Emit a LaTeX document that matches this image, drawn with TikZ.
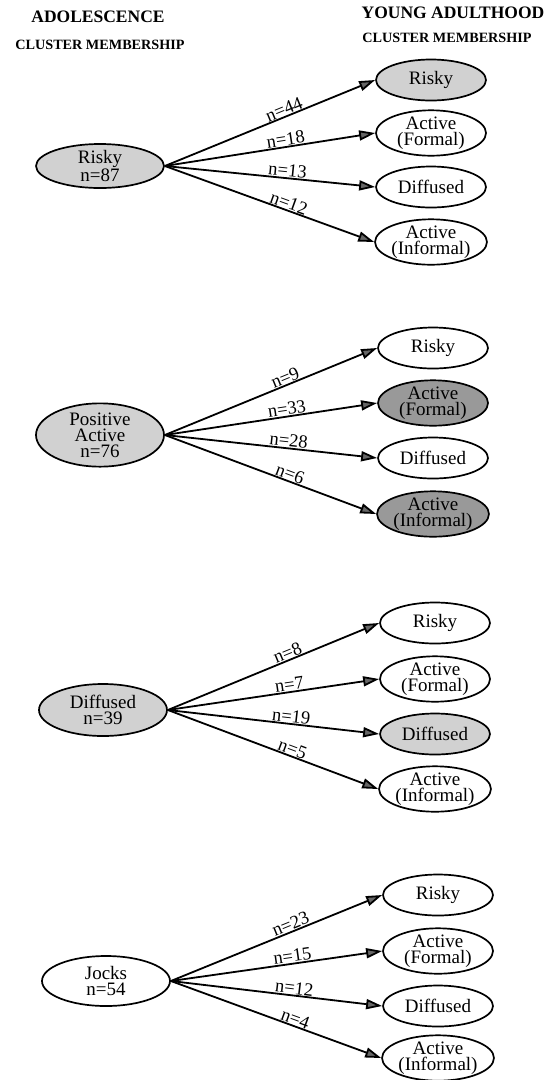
\documentclass[tikz,border=0pt]{standalone}
\usepackage{fontspec}
\setmainfont{Liberation Serif}
\usetikzlibrary{shapes.geometric,arrows.meta}
\tikzset{
  src/.style={ellipse,draw=black,line width=1.7pt,inner sep=0pt,minimum width=128pt,minimum height=48pt,align=center,font=\fontsize{19}{16}\selectfont},
  tgt/.style={ellipse,draw=black,line width=1.7pt,inner sep=0pt,minimum width=110pt,minimum height=41pt,align=center,font=\fontsize{19}{15.5}\selectfont},
  shadeA/.style={fill=black!18},
  shadeB/.style={fill=black!40},
  link/.style={line width=1.8pt,-{Triangle[length=16pt,width=10pt,fill=black!60]}},
  lab/.style={font=\fontsize{18.5}{18}\selectfont,sloped,above,pos=0.58,inner sep=0.5pt},
  hdr/.style={font=\bfseries\fontsize{17.5}{17}\selectfont},
  sub/.style={font=\bfseries\fontsize{14.2}{15}\selectfont}
}
\begin{document}
\begin{tikzpicture}[x=1pt,y=-1pt]
\useasboundingbox (0,0) rectangle (547,1080);
\node[hdr] (h1) at (98,17) {ADOLESCENCE};
\node[sub] (h2) at (100,45) {CLUSTER MEMBERSHIP};
\node[hdr] (h3) at (453,13) {YOUNG ADULTHOOD};
\node[sub] (h4) at (447,38) {CLUSTER MEMBERSHIP};

% group 1
\node[src,shadeA,minimum height=44pt] (s1) at (100,166) {Risky\\n=87};
\node[tgt,shadeA] (a1) at (431,80) {Risky};
\node[tgt] (b1) at (431,133) {Active\\(Formal)};
\node[tgt] (c1) at (431,187) {Diffused};
\node[tgt] (d1) at (431,242) {Active\\(Informal)};
\draw[link] (s1.east) -- (a1.west) node[lab] {n=44};
\draw[link] (s1.east) -- (b1.west) node[lab] {n=18};
\draw[link] (s1.east) -- (c1.west) node[lab] {n=13};
\draw[link] (s1.east) -- (d1.west) node[lab] {n=12};

% group 2
\node[src,shadeA,minimum height=54pt] (s2) at (100,435) {Positive\\Active\\n=76};
\node[tgt] (a2) at (433,348) {Risky};
\node[tgt,shadeB] (b2) at (433,403) {Active\\(Formal)};
\node[tgt] (c2) at (433,458) {Diffused};
\node[tgt,shadeB] (d2) at (433,514) {Active\\(Informal)};
\draw[link] (s2.east) -- (a2.west) node[lab] {n=9};
\draw[link] (s2.east) -- (b2.west) node[lab] {n=33};
\draw[link] (s2.east) -- (c2.west) node[lab] {n=28};
\draw[link] (s2.east) -- (d2.west) node[lab] {n=6};

% group 3
\node[src,shadeA,minimum height=52pt] (s3) at (103,710) {Diffused\\n=39};
\node[tgt] (a3) at (435,623) {Risky};
\node[tgt] (b3) at (435,679) {Active\\(Formal)};
\node[tgt,shadeA] (c3) at (435,734) {Diffused};
\node[tgt] (d3) at (435,789) {Active\\(Informal)};
\draw[link] (s3.east) -- (a3.west) node[lab] {n=8};
\draw[link] (s3.east) -- (b3.west) node[lab] {n=7};
\draw[link] (s3.east) -- (c3.west) node[lab] {n=19};
\draw[link] (s3.east) -- (d3.west) node[lab] {n=5};

% group 4
\node[src,minimum height=50pt] (s4) at (106,981) {Jocks\\n=54};
\node[tgt] (a4) at (438,895) {Risky};
\node[tgt] (b4) at (438,951) {Active\\(Formal)};
\node[tgt] (c4) at (438,1006) {Diffused};
\node[tgt] (d4) at (438,1058) {Active\\(Informal)};
\draw[link] (s4.east) -- (a4.west) node[lab] {n=23};
\draw[link] (s4.east) -- (b4.west) node[lab] {n=15};
\draw[link] (s4.east) -- (c4.west) node[lab] {n=12};
\draw[link] (s4.east) -- (d4.west) node[lab] {n=4};
\end{tikzpicture}
\end{document}
